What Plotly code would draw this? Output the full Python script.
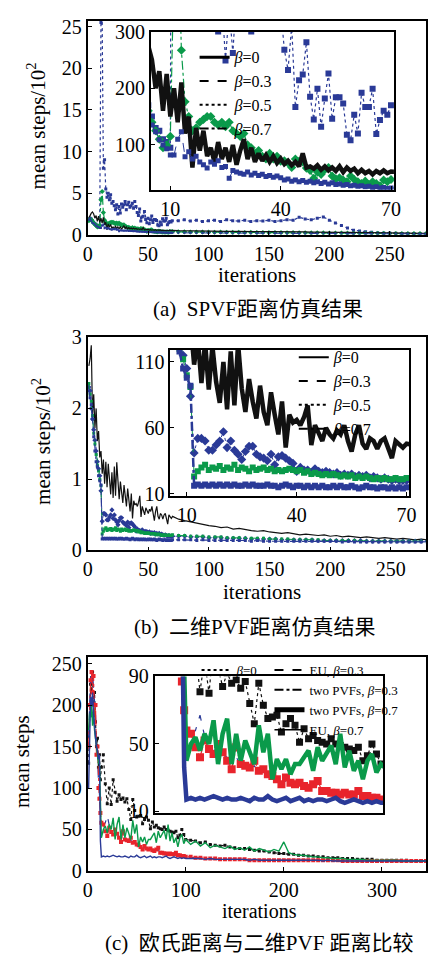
import plotly.graph_objects as go

W, H = 434, 966
FONT = "Liberation Serif, Times New Roman, serif"
CJK = "Liberation Serif, Noto Sans CJK SC, serif"
BLACK = '#111111'
BLUE = '#2a3a97'
GREEN = '#0a9a4a'
RED = '#e8242c'

# ---------------- panel (a): SPVF distance (mean steps) ----------------
a_iter = list(range(1, 71)) + list(range(75, 281, 5))
a_beta0 = [200,240,260,275,250,200,230,160,225,150,
           200,140,210,120,150,60,130,90,125,80,
           95,70,105,75,95,70,100,65,90,110,
           75,95,70,85,72,82,70,80,68,76,
           66,72,64,70,62,85,60,62,58,64,
           56,62,55,60,54,62,52,60,54,58,
           50,56,50,54,48,54,50,55,50,53,
           50,48,47,45,46,44,43,44,42,41,
           42,40,39,40,38,37,38,36,35,36,
           35,34,33,34,32,31,30,29,28,27,
           26,25,24,23,22,21,21,20,19,19,
           18,18]
a_beta3 = [180,200,170,141,135,123,109,100,93,82,
           82,110,123,79,88,75,80,70,65,59,
           70,66,72,60,62,41,55,52,50,48,
           52,47,50,46,48,44,46,43,45,42,
           38,40,36,38,35,37,34,36,33,35,
           32,34,31,33,30,31,29,30,28,29,
           27,28,26,27,25,26,24,25,23,24,
           24,23,23,22,22,21,21,20,20,19,
           19,19,18,18,18,17,17,17,16,16,
           16,15,15,15,14,14,14,14,13,13,
           13,13,12,12,12,12,11,11,11,11,
           10,10]
a_beta5 = [180,200,190,170,150,130,125,110,105,95,
           2550,2600,800,900,550,450,500,420,480,380,
           400,350,300,360,249,340,262,370,330,360,
           400,300,360,390,330,350,380,320,400,340,
           268,232,310,167,214,224,281,185,145,199,
           132,182,226,146,184,184,173,118,108,153,
           120,192,167,167,199,119,144,160,153,170,
           170,180,165,175,160,170,175,160,180,170,
           165,175,160,170,165,175,160,170,180,175,
           210,190,180,200,215,175,140,110,80,55,
           45,35,30,25,22,20,18,16,15,14,
           13,12]
a_beta7 = [170,190,180,160,140,125,110,95,100,115,
           420,520,267,176,150,125,130,140,145,150,
           150,140,135,140,132,140,125,120,115,120,
           100,95,85,90,80,75,85,75,80,71,
           72,68,60,75,71,70,59,55,41,52,
           48,56,60,45,40,42,38,35,45,39,
           35,32,36,30,35,32,28,38,35,39,
           35,34,33,32,33,31,30,31,29,28,
           29,27,28,26,27,25,26,25,24,25,
           23,24,22,23,22,21,20,20,19,18,
           18,17,17,16,16,15,15,15,14,14,
           14,13]

# ---------------- panel (b): 2-D PVF distance ----------------
b_iter = list(range(1, 71)) + list(range(75, 281, 5))
b_beta0 = [260,270,289,190,220,172,200,154,168,131,
           140,108,128,94,125,89,122,95,79,110,
           74,118,77,124,90,72,97,80,67,92,
           72,62,87,70,55,80,45,70,64,66,
           62,68,77,47,62,56,50,60,55,52,
           58,55,62,50,42,55,62,48,44,52,
           50,44,50,52,45,37,50,48,45,48,
           44,42,40,38,36,35,34,32,33,30,
           31,29,28,27,28,26,25,24,25,23,
           22,23,22,21,22,20,21,19,20,19,
           18,19,18,17,18,17,16,17,16,15,
           16,15]
b_beta3 = [230,225,200,185,170,155,140,125,115,105,
           84,41,52,52,50,43,43,47,50,57,
           45,50,43,40,36,42,46,46,40,38,
           37,35,40,32,38,39,37,35,33,27,
           30,28,28,26,29,27,26,27,26,25,
           26,24,25,24,25,23,24,23,24,22,
           23,22,21,22,21,20,21,20,20,20,
           20,20,19,19,19,18,18,18,17,17,
           17,17,16,16,16,16,16,15,15,15,
           15,15,15,14,14,14,14,14,14,14,
           14,13,13,13,13,13,13,13,13,13,
           13,13]
b_beta5 = [235,220,210,190,165,150,135,120,112,100,
           91,23,27,30,32,28,30,29,31,28,
           30,29,32,28,30,29,27,30,28,29,
           30,28,29,27,28,27,28,29,28,27,
           28,26,27,25,26,25,24,25,24,25,
           24,23,24,23,24,22,23,22,23,22,
           21,22,21,22,21,21,22,21,21,22,
           21,21,20,20,20,19,19,19,18,18,
           18,17,17,17,17,16,16,16,16,15,
           15,15,15,15,14,14,14,14,14,14,
           13,13,13,13,13,13,13,13,13,13,
           13,13]
b_beta7 = [225,215,205,185,160,140,125,118,105,98,
           92,16,17,16,17,16,17,16,17,16,
           17,16,17,16,16,17,16,17,16,16,
           16,17,16,16,15,16,17,16,15,16,
           16,15,16,15,16,15,16,15,15,16,
           15,16,15,15,16,15,14,15,16,15,
           15,14,15,15,14,15,14,15,14,15,
           15,15,15,14,15,14,14,14,14,14,
           14,14,13,14,13,13,13,13,13,13,
           13,13,13,13,13,13,13,12,13,12,
           12,12,12,12,12,12,12,12,12,12,
           12,12]

# ---------------- panel (c): Euclidean vs 2-D PVF ----------------
c_iter = list(range(1, 15)) + list(range(16, 101, 2)) + list(range(105, 346, 5))
c_beta0 = [130,200,225,215,240,200,215,180,150,160,125,140,110,125,
           140,105,81,100,80,110,95,84,92,86,
           88,83,87,74,62,86,73,65,66,67,
           57,62,65,61,51,59,53,55,52,51,
           50,53,50,49,48,47,46,48,40,43,
           50,44,38,
           37,36,34,35,32,31,30,31,29,28,
           27,27,26,25,24,24,23,22,21,21,
           20,20,19,19,18,18,17,17,16,16,
           16,15,15,15,14,14,14,14,13,13,
           13,13,13,13,13,12,12,12,12]
c_eu03 = [160,210,235,225,240,220,200,190,150,140,110,90,72,60,
          55,58,67,55,48,46,47,44,42,40,
          42,38,36,35,37,33,34,31,30,28,
          27,28,26,25,26,24,24,25,26,22,
          22,21,20,20,20,20,19,21,19,18,
          18,17,17,
          16,16,15,15,15,14,14,14,14,14,
          13,13,13,13,13,13,13,13,13,13,
          13,13,13,13,13,13,13,13,13,13,
          12,12,12,12,12,12,12,12,12,12,
          12,12,12,12,12,12,12,12,12]
c_pvf03 = [150,200,230,240,215,235,180,200,140,150,100,87,70,58,
           56,48,42,52,47,44,50,45,40,35,
           48,38,37,36,40,34,35,32,31,29,
           26,30,27,26,27,25,24,26,28,22,
           22,21,21,20,21,20,20,22,19,19,
           18,18,17,
           17,16,16,15,15,15,14,14,14,14,
           14,14,13,13,13,13,13,13,13,13,
           13,13,13,13,13,13,13,13,13,13,
           13,12,12,12,12,12,12,12,12,12,
           12,12,12,12,12,12,12,12,12]
c_pvf07 = [170,190,185,200,175,195,170,160,150,140,130,130,95,40,
           50,54,46,56,50,64,38,56,65,38,
           56,40,52,45,38,61,45,56,29,41,
           35,41,32,38,38,42,46,34,48,40,
           44,49,38,56,36,46,34,40,29,40,
           44,33,38,
           32,36,30,34,28,31,29,27,30,26,
           28,25,29,24,27,25,23,26,24,35,
           22,20,19,19,18,17,17,16,16,15,
           15,15,14,14,14,14,13,13,13,13,
           13,13,13,12,12,12,12,12,12]
c_eu07 = [100,180,210,200,215,190,170,160,150,145,135,140,36,17,
          18,17,18,17,18,19,18,17,18,17,
          17,18,17,16,18,17,17,19,17,16,
          17,18,16,17,18,16,17,16,17,17,
          16,17,18,16,15,16,17,16,15,16,
          15,16,15,
          15,15,15,14,15,14,14,14,14,14,
          14,14,13,14,13,13,13,13,13,13,
          13,13,13,13,13,13,13,12,13,12,
          12,12,12,12,12,12,12,12,12,12,
          12,12,12,12,12,12,12,12,12]

legend_ab = ['<i>β</i>=0', '<i>β</i>=0.3', '<i>β</i>=0.5', '<i>β</i>=0.7']
legend_c = ['<i>β</i>=0', 'EU, <i>β</i>=0.3', 'two PVFs, <i>β</i>=0.3',
            'two PVFs, <i>β</i>=0.7', 'EU, <i>β</i>=0.7']

fig = go.Figure()


def hundred(vals):
    return [v / 100 for v in vals]


def series(x, y, xa, ya, color, dash, width, symbol=None, size=0):
    kw = dict(x=x, y=y, xaxis=xa, yaxis=ya, line=dict(color=color, dash=dash, width=width),
              showlegend=False, hoverinfo='skip')
    if symbol:
        kw['mode'] = 'lines+markers'
        kw['marker'] = dict(symbol=symbol, size=size, color=color, line=dict(width=0))
    else:
        kw['mode'] = 'lines'
    fig.add_trace(go.Scatter(**kw))


def legend_item(name, dash, width, legend):
    fig.add_trace(go.Scatter(x=[None], y=[None], mode='lines', name=name, xaxis='x2', yaxis='y2',
                             line=dict(color='black', dash=dash, width=width), legend=legend,
                             hoverinfo='skip'))


# panel (a) main + inset
for xa, ya, scale, big in (('x', 'y', hundred, False), ('x2', 'y2', lambda v: v, True)):
    ms = 6 if big else 3
    series(a_iter, scale(a_beta5), xa, ya, BLUE, 'dot', 1.2, 'square', ms)
    series(a_iter, scale(a_beta7), xa, ya, GREEN, 'dashdot', 1.2, 'diamond', ms + 1)
    series(a_iter, scale(a_beta0), xa, ya, BLACK, 'solid', 4.5 if big else 1.2)
    series(a_iter, scale(a_beta3), xa, ya, BLUE, 'dash', 1.0, 'square', ms - 1)

# panel (b)
for xa, ya, scale, big in (('x3', 'y3', hundred, False), ('x4', 'y4', lambda v: v, True)):
    ms = 6 if big else 3
    series(b_iter, scale(b_beta0), xa, ya, BLACK, 'solid', 4.5 if big else 1.2)
    series(b_iter, scale(b_beta3), xa, ya, BLUE, 'dot', 1.0, 'diamond', ms + 1)
    series(b_iter, scale(b_beta5), xa, ya, GREEN, 'dash', 1.0, 'square', ms)
    series(b_iter, scale(b_beta7), xa, ya, BLUE, 'dashdot', 2.5 if big else 1.2, 'square', ms)

# panel (c)
for xa, ya, big in (('x5', 'y5', False), ('x6', 'y6', True)):
    ms = 7 if big else 3
    series(c_iter, c_beta0, xa, ya, BLACK, 'dot', 1.2, 'square', ms)
    series(c_iter, c_eu03, xa, ya, BLUE, 'dash', 1.2)
    series(c_iter, c_pvf03, xa, ya, RED, 'dashdot', 1.2, 'square', ms + 1)
    series(c_iter, c_pvf07, xa, ya, GREEN, 'solid', 4.5 if big else 1.4)
    series(c_iter, c_eu07, xa, ya, BLUE, 'solid', 4.5 if big else 1.4)

# legends (black samples as in the figure)
for name, dash, wdt in zip(legend_ab, ['solid', 'dash', 'dot', 'dashdot'], [3, 2, 2, 2]):
    legend_item(name, dash, wdt, 'legend')
for name, dash, wdt in zip(legend_ab, ['solid', 'dash', 'dot', 'dashdot'], [2, 2, 2, 2]):
    legend_item(name, dash, wdt, 'legend2')
legend_item(legend_c[0], 'dot', 2, 'legend3')
for name, dash, wdt in zip(legend_c[1:], ['dash', 'dashdot', 'solid', 'solid'], [2, 2, 5, 1.5]):
    legend_item(name, dash, wdt, 'legend4')


def dx(p0, p1):
    return [p0 / W, p1 / W]


def dy(top, bot):
    return [1 - bot / H, 1 - top / H]


def axis(dom, rng, tickvals, anchor, labels=True, ticks='inside'):
    return dict(domain=dom, range=rng, tickvals=tickvals, anchor=anchor,
                ticks=ticks, ticklen=4, tickwidth=1.2, tickcolor='black',
                showticklabels=labels, showline=True, linewidth=1.8, linecolor='black',
                mirror=True, showgrid=False, zeroline=False, fixedrange=True,
                tickfont=dict(family=FONT, size=20, color='black'))


leg_common = dict(xanchor='left', yanchor='top', bgcolor='rgba(0,0,0,0)', borderwidth=0,
                  itemwidth=30, tracegroupgap=0)

fig.update_layout(
    margin=dict(l=0, r=0, t=0, b=0),
    plot_bgcolor='white', paper_bgcolor='white',
    font=dict(family=FONT, color='black'),
    xaxis=axis(dx(85, 433), [0, 280], [0, 50, 100, 150, 200, 250], 'y'),
    yaxis=axis(dy(10, 229), [0, 25.7], [0, 5, 10, 15, 20, 25], 'x'),
    xaxis2=axis(dx(150, 400), [4.7, 70.8], [10, 40, 70], 'y2'),
    yaxis2=axis(dy(21, 183), [20.7, 300], [100, 200, 300], 'x2'),
    xaxis3=axis(dx(85, 433), [0, 279], [0, 50, 100, 150, 200, 250], 'y3'),
    yaxis3=axis(dy(334, 552), [0, 3], [0, 1, 2, 3], 'x3'),
    xaxis4=axis(dx(170, 416), [5.5, 70.8], [10, 40, 70], 'y4'),
    yaxis4=axis(dy(347, 496), [8.5, 119], [10, 60, 110], 'x4'),
    xaxis5=axis(dx(85, 433), [0, 345], [0, 100, 200, 300], 'y5'),
    yaxis5=axis(dy(661, 880), [0, 258], [0, 50, 100, 150, 200, 250], 'x5'),
    xaxis6=axis(dx(154, 389), [0, 101], [], 'y6', labels=False, ticks=''),
    yaxis6=axis(dy(681, 821), [8.8, 90], [10, 50, 90], 'x6'),
    legend=dict(x=195 / W, y=1 - 30 / H, font=dict(family=FONT, size=16, color='black'), **leg_common),
    legend2=dict(x=297 / W, y=1 - 337 / H, font=dict(family=FONT, size=16, color='black'), **leg_common),
    legend3=dict(x=197 / W, y=1 - 659 / H, font=dict(family=FONT, size=13, color='black'), **leg_common),
    legend4=dict(x=272 / W, y=1 - 659 / H, font=dict(family=FONT, size=13, color='black'), **leg_common),
)


def note(text, px, py, size, angle=0, family=FONT):
    fig.add_annotation(text=text, x=px / W, y=1 - py / H, xref='paper', yref='paper',
                       xanchor='center', yanchor='middle', showarrow=False, textangle=angle,
                       font=dict(family=family, size=size, color='black'))


note('mean steps/10<sup>2</sup>', 32, 118, 21, -90)
note('iterations', 259, 270, 21)
note('(a)\u00a0\u00a0SPVF距离仿真结果', 260, 305, 21, family=CJK)
note('mean steps/10<sup>2</sup>', 38, 440, 21, -90)
note('iterations', 264, 595, 21)
note('(b)\u00a0\u00a0二维PVF距离仿真结果', 257, 630, 21, family=CJK)
note('mean steps', 17, 768, 21, -90)
note('iterations', 262, 921, 20)
note('(c)\u00a0\u00a0欧氏距离与二维PVF\u00a0距离比较', 262, 954, 21, family=CJK)

# the plot div is pinned to the browser window (fixed at its top-left corner),
# so the page's default body margin cannot shift or overflow the 434x966 figure
fig.write_html("out.html", config={'displayModeBar': False},
               default_width='434px',
               default_height='966px; position:fixed; left:0; top:0; margin:0')
